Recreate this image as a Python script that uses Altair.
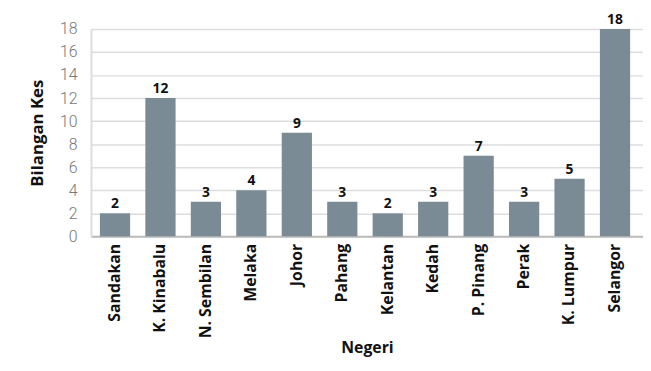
import altair as alt
import pandas as pd

negeri = ["Sandakan", "K. Kinabalu", "N. Sembilan", "Melaka", "Johor", "Pahang",
          "Kelantan", "Kedah", "P. Pinang", "Perak", "K. Lumpur", "Selangor"]
kes = [2, 12, 3, 4, 9, 3, 2, 3, 7, 3, 5, 18]
y_ticks = [0, 2, 4, 6, 8, 10, 12, 14, 16, 18]

df = pd.DataFrame({"Negeri": negeri, "Kes": kes})

FONT = "Open Sans"

x = alt.X("Negeri:N", sort=negeri, title="Negeri",
          scale=alt.Scale(paddingInner=0.335, paddingOuter=0.24, align=0.41),
          axis=alt.Axis(labelAngle=-90, labelFont=FONT, labelFontWeight="bold",
                        labelFontSize=16, labelColor="#111", labelPadding=7,
                        ticks=False, domainColor="#bbbbbb", domainWidth=2,
                        titleFont=FONT, titleFontWeight="bold", titleFontSize=16,
                        titleColor="#111", titlePadding=2))
y = alt.Y("Kes:Q", title="Bilangan Kes",
          scale=alt.Scale(domain=[0, 18], nice=False),
          axis=alt.Axis(values=y_ticks, tickCount=10, ticks=False, labelFont="Roboto",
                        labelFontWeight=300, labelFontSize=16, labelColor="#777",
                        labelPadding=14, labelOverlap=False, labelFlush=False,
                        domainColor="#dddddd", domainWidth=2,
                        gridColor="#dddddd", gridWidth=1.5,
                        titleFont=FONT, titleFontWeight="bold", titleFontSize=17,
                        titleColor="#111", titlePadding=13))

bars = alt.Chart(df).mark_bar(color="#7a8b95").encode(x=x, y=y)
labels = alt.Chart(df).mark_text(dy=-9, font=FONT, fontWeight="bold",
                                 fontSize=14, color="#111").encode(
    x=x, y=y, text="Kes:Q")

chart = (bars + labels).properties(
    width=559, height=210,
    autosize=alt.AutoSizeParams(type="none"),
    padding={"left": 84, "right": 0, "top": 19, "bottom": 126},
).configure_view(stroke=None)

chart.save("out.html", embed_options={"renderer": "svg", "actions": False})
